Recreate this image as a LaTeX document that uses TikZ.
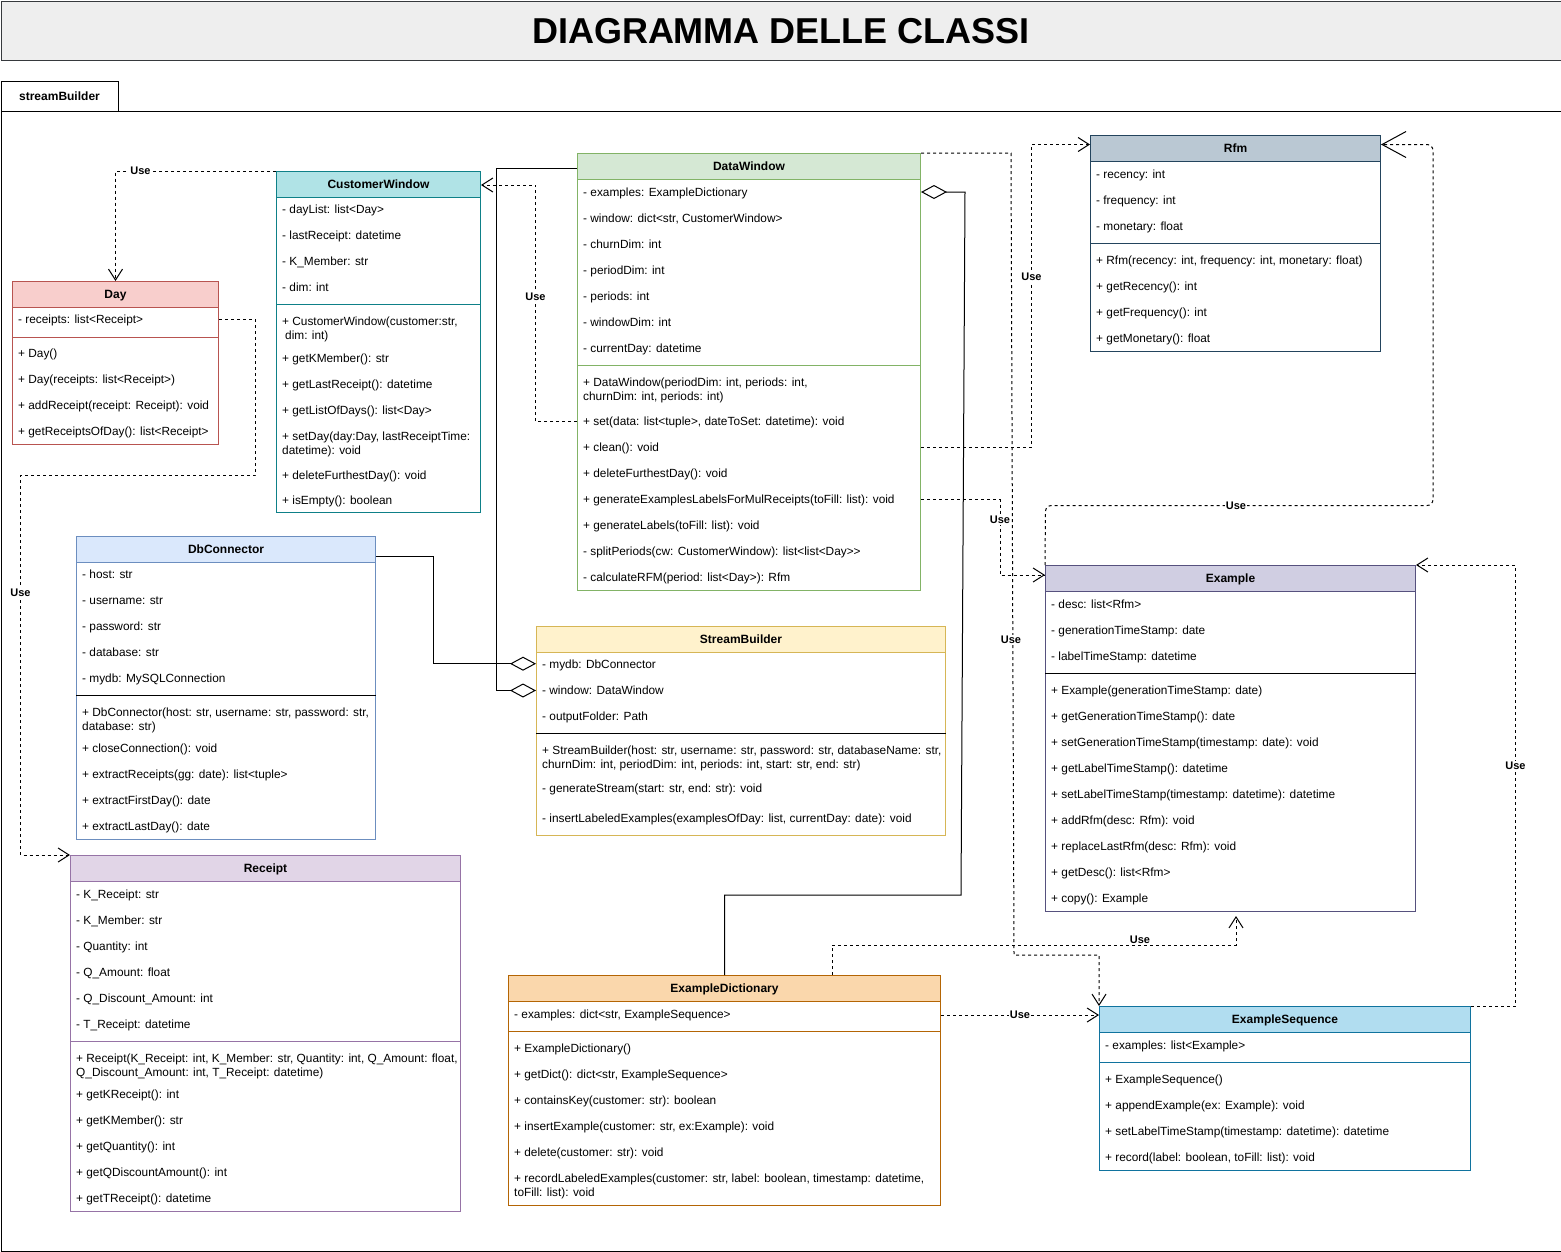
\documentclass[tikz,border=0pt]{standalone}
\usepackage{fontspec}
\setmainfont{Liberation Sans}
\usetikzlibrary{arrows.meta,calc}
\newcommand\fsr{\fontsize{11.85}{14}\selectfont}
\newcommand\fsb{\fontsize{12}{14}\selectfont\bfseries}
\newcommand\fsu{\fontsize{11}{13}\selectfont\bfseries}
\definecolor{cwF}{HTML}{B0E3E6}\definecolor{cwS}{HTML}{0E8088}
\definecolor{dayF}{HTML}{F8CECC}\definecolor{dayS}{HTML}{B85450}
\definecolor{dwF}{HTML}{D5E8D4}\definecolor{dwS}{HTML}{82B366}
\definecolor{rfmF}{HTML}{BAC8D3}\definecolor{rfmS}{HTML}{23445D}
\definecolor{dbF}{HTML}{DAE8FC}\definecolor{dbS}{HTML}{6C8EBF}
\definecolor{sbF}{HTML}{FFF2CC}\definecolor{sbS}{HTML}{D6B656}
\definecolor{exF}{HTML}{D0CEE2}\definecolor{exS}{HTML}{56517E}
\definecolor{rcF}{HTML}{E1D5E7}\definecolor{rcS}{HTML}{9673A6}
\definecolor{edF}{HTML}{FAD7AC}\definecolor{edS}{HTML}{B46504}
\definecolor{esF}{HTML}{B1DDF0}\definecolor{esS}{HTML}{10739E}
\definecolor{titleF}{HTML}{EEEEEE}\definecolor{titleS}{HTML}{36393D}
\tikzset{
  box/.style={draw=#1, fill=white, line width=1pt, inner sep=0pt, anchor=north west},
  hdr/.style={line width=1pt, inner sep=0pt, anchor=north west, minimum height=26pt,
    font=\fsb, text height=8.6pt, text depth=0pt},
  rowt/.style={anchor=base west, inner sep=0pt, font=\fsr},
  sepline/.style={line width=1pt},
  dep/.style={line width=1pt, dash pattern=on 3pt off 3pt,
    -{Straight Barb[length=11pt,width=14pt]}},
  depbig/.style={line width=1pt, dash pattern=on 3pt off 3pt,
    -{Straight Barb[length=24pt,width=26pt]}},
  agg/.style={line width=1pt, -{Diamond[open,length=26pt,width=14pt]}},
  aggs/.style={line width=1pt, {Diamond[open,length=26pt,width=14pt]}-},
  uselbl/.style={font=\fsu, fill=white, inner sep=1pt, text height=7.9pt, text depth=0pt},
}
\newcommand\classframe[8]{%
  \node[box=#7, minimum width=#4pt, minimum height=#5pt] (#1) at (#2,#3) {};
  \node[hdr, draw=#7, fill=#6, minimum width=#4pt] (#1h) at (#2,#3) {#8};}
\newcommand\classrows[5]{%
  \foreach \txt [count=\i] in {#5} {\node[rowt] (#1\i) at (#2,{#3+4+#4*(\i-1)}) {\txt};}}
\begin{document}
\begin{tikzpicture}[x=1pt,y=-1pt]
\useasboundingbox (0,0) rectangle (1561,1251);
% title and package
\node[draw=titleS, fill=titleF, line width=1pt, anchor=north west, minimum width=1560pt,
  minimum height=59pt, inner sep=0pt, font=\fontsize{36}{40}\selectfont\bfseries,
  text height=25.8pt, text depth=0pt] (title) at (0.5,0.5) {DIAGRAMMA DELLE CLASSI};
\node[draw, fill=white, line width=1pt, anchor=north west, minimum width=117pt,
  minimum height=30pt, inner sep=0pt, font=\fsb, text height=8.6pt, text depth=0pt]
  (tab) at (0.5,80.5) {streamBuilder};
\node[draw, line width=1pt, anchor=north west, minimum width=1560pt, minimum height=1140pt,
  inner sep=0pt] (pkg) at (0.5,110.5) {};

% ---------- CustomerWindow ----------
\classframe{cw}{276}{171}{204}{341}{cwF}{cwS}{CustomerWindow}
\draw[sepline, cwS] (cw.west |- 0,304.5) -- (cw.east |- 0,304.5);
\classrows{cwa}{282}{209.7}{26}{{- dayList: list<Day>},{- lastReceipt: datetime},{- K\_Member: str},{- dim: int}}
\node[rowt] (cwm1) at (282,325.7) {+ CustomerWindow(customer:str,};
\node[rowt] (cwm1b) at (285,339.7) {dim: int)};
\classrows{cwn}{282}{358.7}{26}{{+ getKMember(): str},{+ getLastReceipt(): datetime},{+ getListOfDays(): list<Day>}}
\node[rowt] (cwm5) at (282,440) {+ setDay(day:Day, lastReceiptTime:};
\node[rowt] (cwm5b) at (282,454) {datetime): void};
\node[rowt] (cwm6) at (282,479) {+ deleteFurthestDay(): void};
\node[rowt] (cwm7) at (282,504) {+ isEmpty(): boolean};

% ---------- Day ----------
\classframe{day}{12}{281}{206}{163}{dayF}{dayS}{Day}
\draw[sepline, dayS] (day.west |- 0,337) -- (day.east |- 0,337);
\node[rowt] (daya1) at (18,323.7) {- receipts: list<Receipt>};
\classrows{daym}{18}{353.7}{26}{{+ Day()},{+ Day(receipts: list<Receipt>)},{+ addReceipt(receipt: Receipt): void},{+ getReceiptsOfDay(): list<Receipt>}}

% ---------- DataWindow ----------
\classframe{dw}{577}{153}{343}{437}{dwF}{dwS}{DataWindow}
\draw[sepline, dwS] (dw.west |- 0,365.5) -- (dw.east |- 0,365.5);
\classrows{dwa}{583}{192.7}{26}{{- examples: ExampleDictionary},{- window: dict<str, CustomerWindow>},{- churnDim: int},{- periodDim: int},{- periods: int},{- windowDim: int},{- currentDay: datetime}}
\node[rowt] (dwm1) at (583,386.7) {+ DataWindow(periodDim: int, periods: int,};
\node[rowt] (dwm1b) at (583,400.7) {churnDim: int, periods: int)};
\classrows{dwn}{583}{421.7}{26}{{+ set(data: list<tuple>, dateToSet: datetime): void},{+ clean(): void},{+ deleteFurthestDay(): void},{+ generateExamplesLabelsForMulReceipts(toFill: list): void},{+ generateLabels(toFill: list): void},{- splitPeriods(cw: CustomerWindow): list<list<Day>{}>},{- calculateRFM(period: list<Day>): Rfm}}

% ---------- Rfm ----------
\classframe{rfm}{1090}{135}{290}{216}{rfmF}{rfmS}{Rfm}
\draw[sepline, rfmS] (rfm.west |- 0,243.3) -- (rfm.east |- 0,243.3);
\classrows{rfma}{1096}{174.7}{26}{{- recency: int},{- frequency: int},{- monetary: float}}
\classrows{rfmm}{1096}{260.7}{26}{{+ Rfm(recency: int, frequency: int, monetary: float)},{+ getRecency(): int},{+ getFrequency(): int},{+ getMonetary(): float}}

% ---------- DbConnector ----------
\classframe{dbc}{76}{536}{299}{303}{dbF}{dbS}{DbConnector}
\draw[sepline, black] (dbc.west |- 0,695.3) -- (dbc.east |- 0,695.3);
\classrows{dbca}{82}{574.7}{26}{{- host: str},{- username: str},{- password: str},{- database: str},{- mydb: MySQLConnection}}
\node[rowt] (dbcm1) at (82,716.7) {+ DbConnector(host: str, username: str, password: str,};
\node[rowt] (dbcm1b) at (82,730.7) {database: str)};
\classrows{dbcn}{82}{748.7}{26}{{+ closeConnection(): void},{+ extractReceipts(gg: date): list<tuple>},{+ extractFirstDay(): date},{+ extractLastDay(): date}}

% ---------- StreamBuilder ----------
\classframe{sb}{536}{626}{409}{209}{sbF}{sbS}{StreamBuilder}
\draw[sepline, black] (sb.west |- 0,733.3) -- (sb.east |- 0,733.3);
\classrows{sba}{542}{664.7}{26}{{- mydb: DbConnector},{- window: DataWindow},{- outputFolder: Path}}
\node[rowt] (sbm1) at (542,754.7) {+ StreamBuilder(host: str, username: str, password: str, databaseName: str,};
\node[rowt] (sbm1b) at (542,768.7) {churnDim: int, periodDim: int, periods: int, start: str, end: str)};
\node[rowt] (sbm2) at (542,792.7) {- generateStream(start: str, end: str): void};
\node[rowt] (sbm3) at (542,822.7) {- insertLabeledExamples(examplesOfDay: list, currentDay: date): void};

% ---------- Example ----------
\classframe{ex}{1045}{565}{370}{346}{exF}{exS}{Example}
\draw[sepline, black] (ex.west |- 0,673.3) -- (ex.east |- 0,673.3);
\classrows{exa}{1051}{604.7}{26}{{- desc: list<Rfm>},{- generationTimeStamp: date},{- labelTimeStamp: datetime}}
\classrows{exm}{1051}{690.7}{26}{{+ Example(generationTimeStamp: date)},{+ getGenerationTimeStamp(): date},{+ setGenerationTimeStamp(timestamp: date): void},{+ getLabelTimeStamp(): datetime},{+ setLabelTimeStamp(timestamp: datetime): datetime},{+ addRfm(desc: Rfm): void},{+ replaceLastRfm(desc: Rfm): void},{+ getDesc(): list<Rfm>},{+ copy(): Example}}

% ---------- Receipt ----------
\classframe{rc}{70}{855}{390}{356}{rcF}{rcS}{Receipt}
\draw[sepline, rcS] (rc.west |- 0,1041.7) -- (rc.east |- 0,1041.7);
\classrows{rca}{76}{894.7}{26}{{- K\_Receipt: str},{- K\_Member: str},{- Quantity: int},{- Q\_Amount: float},{- Q\_Discount\_Amount: int},{- T\_Receipt: datetime}}
\node[rowt] (rcm1) at (76,1062.7) {+ Receipt(K\_Receipt: int, K\_Member: str, Quantity: int, Q\_Amount: float,};
\node[rowt] (rcm1b) at (76,1076.7) {Q\_Discount\_Amount: int, T\_Receipt: datetime)};
\classrows{rcn}{76}{1094.7}{26}{{+ getKReceipt(): int},{+ getKMember(): str},{+ getQuantity(): int},{+ getQDiscountAmount(): int},{+ getTReceipt(): datetime}}

% ---------- ExampleDictionary ----------
\classframe{exd}{508}{975}{432}{230}{edF}{edS}{ExampleDictionary}
\draw[sepline, edS] (exd.west |- 0,1031.7) -- (exd.east |- 0,1031.7);
\node[rowt] (exda1) at (514,1018.7) {- examples: dict<str, ExampleSequence>};
\classrows{exdm}{514}{1048.3}{26}{{+ ExampleDictionary()},{+ getDict(): dict<str, ExampleSequence>},{+ containsKey(customer: str): boolean},{+ insertExample(customer: str, ex:Example): void},{+ delete(customer: str): void}}
\node[rowt] (exdm6) at (514,1182.3) {+ recordLabeledExamples(customer: str, label: boolean, timestamp: datetime,};
\node[rowt] (exdm6b) at (514,1196.3) {toFill: list): void};

% ---------- ExampleSequence ----------
\classframe{exs}{1099}{1006}{371}{164}{esF}{esS}{ExampleSequence}
\draw[sepline, esS] (exs.west |- 0,1062.3) -- (exs.east |- 0,1062.3);
\node[rowt] (exsa1) at (1105,1049.7) {- examples: list<Example>};
\classrows{exsm}{1105}{1079.7}{26}{{+ ExampleSequence()},{+ appendExample(ex: Example): void},{+ setLabelTimeStamp(timestamp: datetime): datetime},{+ record(label: boolean, toFill: list): void}}

% ---------- connectors ----------
\draw[dep] (cw.north west) -| (day.north);
\draw[dep] (day.east |- 0,319.5) -- (255.5,319.5) -- (255.5,475) -- (20.5,475) |- (rc.north west);
\draw[dep] (dw.west |- 0,421.7) -| (535.5,185) -- (cw.east |- 0,185);
\draw[dep] (dw.north east) -- (1011,153) -- (1014,955) -| (exs.north west);
\draw[dep] (dw.east |- 0,447.3) -| (1031.5,144.5) -- (rfm.west |- 0,144.5);
\draw[dep] (dw.east |- 0,499.5) -| (1000,575) -- (ex.west |- 0,575);
\draw[depbig, rounded corners=6pt] (ex.north west) -- (1045.5,505.5) -- (1433,505.5) -- (1433,144.5) -- (rfm.east |- 0,144.5);
\draw[dep] (exd.north -| 832,0) |- (1236,945.3) -- ([xshift=5.5pt,yshift=-4pt]ex.south);
\draw[dep] (exd.east |- 0,1015) -- (exs.west |- 0,1015);
\draw[dep] (exs.north east) -- (1515.5,1006) |- (ex.north east);
\draw[agg] (dw.west |- 0,168.3) -- (496,168.3) |- (sb.west |- 0,690.5);
\draw[agg] (dbc.east |- 0,556.7) -| (433.3,663.7) -- (sb.west |- 0,663.7);
\draw[aggs] (dw.east |- 0,192) -- (965,192) -- (961,895) -| (exd.north);

% ---------- Use labels ----------
\node[uselbl] (u1) at (140.5,170.5) {Use};
\node[uselbl] (u2) at (20.5,593) {Use};
\node[uselbl] (u3) at (535.5,296.3) {Use};
\node[uselbl] (u4) at (1031.5,276.7) {Use};
\node[uselbl] (u5) at (1000,520) {Use};
\node[uselbl] (u6) at (1011,640) {Use};
\node[uselbl] (u7) at (1236,505.5) {Use};
\node[uselbl] (u8) at (1140,939.5) {Use};
\node[uselbl] (u9) at (1020,1015) {Use};
\node[uselbl] (u10) at (1515.5,766) {Use};
\end{tikzpicture}
\end{document}
